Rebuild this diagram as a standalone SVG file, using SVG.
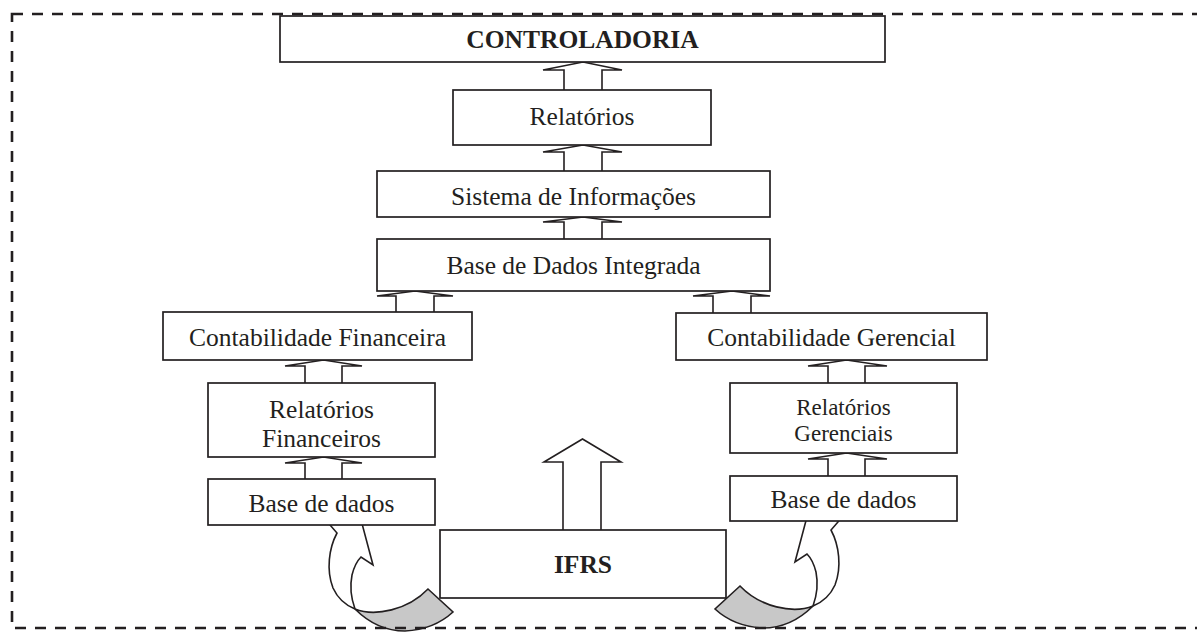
<svg xmlns="http://www.w3.org/2000/svg" width="1197" height="633" viewBox="0 0 1197 633">
<style>
.box{fill:#fff;stroke:#231f20;stroke-width:1.7}
.arr{fill:#fff;stroke:#231f20;stroke-width:1.6;stroke-linejoin:miter}
.rib{fill:#c8c8c8;stroke:#231f20;stroke-width:1.6}
.t{font-family:"Liberation Serif","Times New Roman",serif;font-size:25.5px;fill:#231f20;text-anchor:middle}
.b{font-weight:bold}
.border{fill:none;stroke:#231f20;stroke-width:2.6;stroke-dasharray:11 9}
</style>
<rect x="0" y="0" width="1197" height="633" fill="#fff"/>
<g id="connectors">
  <!-- left curved arrow -->
  <g id="curve-left">
    <path class="arr" d="M324,518 L337,533 C329,548 326,570 333,588 C338,599 345,605 355,609 C351,598 350,585 352,575 C354,567 357,561 361,557 L373,565 L360,516 Z"/>
    <path class="rib" d="M355,609 C375,617 408,610 428,589 L453,612 C440,624 425,630 405,631 C385,631 368,622 355,609 Z"/>
  </g>
  <g id="curve-right" transform="matrix(-1 0 0 1 1168 -3)">
    <path class="arr" d="M324,518 L337,533 C329,548 326,570 333,588 C338,599 345,605 355,609 C351,598 350,585 352,575 C354,567 357,561 361,557 L373,565 L360,516 Z"/>
    <path class="rib" d="M355,609 C375,617 408,610 428,589 L453,612 C440,624 425,630 405,631 C385,631 368,622 355,609 Z"/>
  </g>
  <path class="arr" d="M564,90 V70 H543 L583,62 L622,70 H602 V90"/>
  <path class="arr" d="M564,171 V152 H543 L583,145 L622,152 H602 V171"/>
  <path class="arr" d="M564,239 V222 H543 L583,217 L622,222 H602 V239"/>
  <path class="arr" d="M396,312 V296 H377 L415,291 L453,296 H434 V312"/>
  <path class="arr" d="M713,313 V296 H693 L732,291 L770,296 H751 V313"/>
  <path class="arr" d="M305,383 V366 H285 L323.5,360 L362,366 H342 V383"/>
  <path class="arr" d="M305,479 V463 H285 L323.5,457 L362,463 H342 V479"/>
  <path class="arr" d="M828,383 V366 H808 L846.5,360 L887,366 H865 V383"/>
  <path class="arr" d="M828,476 V459 H808 L846.5,453 L887,459 H865 V476"/>
  <path class="arr" d="M563,530 V462 H544 L582.5,439 L621,462 H601 V530"/>
</g>
<g id="controladoria">
  <rect class="box" x="280" y="16" width="605" height="46"/>
  <text class="t b" x="582.5" y="48">CONTROLADORIA</text>
</g>
<g id="relatorios">
  <rect class="box" x="453" y="90" width="258" height="55"/>
  <text class="t" x="582" y="125">Relatórios</text>
</g>
<g id="sistema">
  <rect class="box" x="377" y="171" width="393" height="46"/>
  <text class="t" x="573.5" y="205">Sistema de Informações</text>
</g>
<g id="bdi">
  <rect class="box" x="377" y="239" width="393" height="52"/>
  <text class="t" x="573.5" y="274">Base de Dados Integrada</text>
</g>
<g id="cf">
  <rect class="box" x="163" y="312" width="309" height="48"/>
  <text class="t" x="317.5" y="346">Contabilidade Financeira</text>
</g>
<g id="cg">
  <rect class="box" x="676" y="313" width="311" height="47"/>
  <text class="t" x="831.5" y="346">Contabilidade Gerencial</text>
</g>
<g id="rf">
  <rect class="box" x="208" y="383" width="227" height="74"/>
  <text class="t" x="321.5" y="418">Relatórios</text>
  <text class="t" x="321.5" y="447">Financeiros</text>
</g>
<g id="rg">
  <rect class="box" x="730" y="383" width="227" height="70"/>
  <text class="t" x="843.5" y="415" style="font-size:23px">Relatórios</text>
  <text class="t" x="843.5" y="441" style="font-size:23px">Gerenciais</text>
</g>
<g id="bd-left">
  <rect class="box" x="208" y="479" width="227" height="46"/>
  <text class="t" x="321.5" y="512">Base de dados</text>
</g>
<g id="bd-right">
  <rect class="box" x="730" y="476" width="227" height="45"/>
  <text class="t" x="843.5" y="508">Base de dados</text>
</g>
<g id="ifrs">
  <rect class="box" x="440" y="530" width="286" height="68"/>
  <text class="t b" x="583" y="573">IFRS</text>
</g>
<rect class="border" x="12" y="14" width="1200" height="614"/>
</svg>
